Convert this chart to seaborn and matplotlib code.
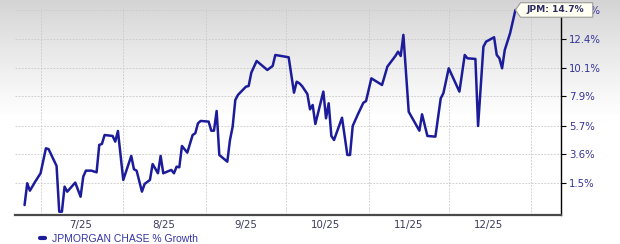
import numpy as np
import pandas as pd
import matplotlib
matplotlib.use("Agg")
import matplotlib.pyplot as plt
from matplotlib.path import Path
import seaborn as sns

# ---------------- data ----------------
dates = [
    "2025-06-25", "2025-06-26", "2025-06-27", "2025-06-29", "2025-07-01",
    "2025-07-03", "2025-07-04", "2025-07-07", "2025-07-08", "2025-07-09",
    "2025-07-10", "2025-07-11", "2025-07-14", "2025-07-16", "2025-07-17",
    "2025-07-18", "2025-07-20", "2025-07-22", "2025-07-23", "2025-07-24",
    "2025-07-25", "2025-07-28", "2025-07-29", "2025-07-30", "2025-08-01",
    "2025-08-04", "2025-08-05", "2025-08-06", "2025-08-08", "2025-08-09",
    "2025-08-11", "2025-08-12", "2025-08-14", "2025-08-15", "2025-08-16",
    "2025-08-19", "2025-08-20", "2025-08-21", "2025-08-22", "2025-08-23",
    "2025-08-25", "2025-08-27", "2025-08-28", "2025-08-29", "2025-08-30",
    "2025-09-02", "2025-09-03", "2025-09-04", "2025-09-05", "2025-09-06",
    "2025-09-09", "2025-09-10", "2025-09-11", "2025-09-12", "2025-09-13",
    "2025-09-16", "2025-09-17", "2025-09-18", "2025-09-20", "2025-09-24",
    "2025-09-26", "2025-09-27", "2025-10-02", "2025-10-04", "2025-10-05",
    "2025-10-06", "2025-10-07", "2025-10-09", "2025-10-10", "2025-10-11",
    "2025-10-12", "2025-10-15", "2025-10-16", "2025-10-17", "2025-10-18",
    "2025-10-19", "2025-10-22", "2025-10-24", "2025-10-25", "2025-10-26",
    "2025-10-28", "2025-10-30", "2025-10-31", "2025-11-02", "2025-11-06",
    "2025-11-08", "2025-11-11", "2025-11-12", "2025-11-13", "2025-11-14",
    "2025-11-16", "2025-11-20", "2025-11-21", "2025-11-23", "2025-11-26",
    "2025-11-28", "2025-11-29", "2025-12-01", "2025-12-05", "2025-12-07",
    "2025-12-08", "2025-12-11", "2025-12-12", "2025-12-14", "2025-12-15",
    "2025-12-18", "2025-12-19", "2025-12-20", "2025-12-21", "2025-12-22",
    "2025-12-24", "2025-12-26",
]
growth = [
    -0.07, 1.48, 0.95, 1.60, 2.20,
    4.02, 3.96, 2.73, -0.54, -0.54,
    1.24, 0.88, 1.53, 0.52, 1.96,
    2.39, 2.39, 2.27, 4.27, 4.34,
    5.00, 4.93, 4.51, 5.30, 1.72,
    3.46, 2.49, 2.39, 0.88, 1.43,
    1.72, 2.87, 2.20, 3.46, 2.20,
    2.44, 2.20, 2.68, 2.63, 4.19,
    3.70, 5.00, 5.13, 5.87, 6.05,
    6.00, 5.32, 5.32, 6.80, 3.53,
    3.04, 4.63, 5.62, 7.63, 8.02,
    8.65, 8.70, 9.73, 10.64, 9.94,
    10.25, 11.11, 10.93, 8.19, 9.03,
    8.91, 8.70, 8.09, 6.92, 7.25,
    5.82, 8.27, 6.25, 7.38, 4.93,
    4.63, 6.29, 3.53, 3.53, 5.67,
    6.57, 7.42, 7.55, 9.29, 8.78,
    10.20, 11.03, 11.37, 11.03, 12.70,
    6.74, 5.32, 6.55, 4.93, 4.88,
    7.76, 8.15, 10.07, 8.27, 11.11,
    10.85, 10.80, 5.67, 11.76, 12.16,
    12.51, 11.11, 10.85, 10.07, 11.50,
    12.83, 14.70,
]
series_name = "JPMORGAN CHASE % Growth"
ticker = "JPM"

ytick_values = [1.5, 3.6, 5.7, 7.9, 10.1, 12.4, 14.7]
ytick_labels = ["1.5%", "3.6%", "5.7%", "7.9%", "10.1%", "12.4%", "14.7%"]

month_starts = ["2025-07-01", "2025-08-01", "2025-09-01", "2025-10-01",
                "2025-11-01", "2025-12-01", "2026-01-01"]
month_mids = ["2025-07-16", "2025-08-16", "2025-09-16", "2025-10-16",
              "2025-11-16", "2025-12-16"]
month_labels = ["7/25", "8/25", "9/25", "10/25", "11/25", "12/25"]

df = pd.DataFrame({"date": pd.to_datetime(dates), "growth": growth})

# ---------------- style ----------------
sns.set_style("white")
plt.rcParams["font.family"] = ["DejaVu Sans"]

W, H = 620, 244
fig = plt.figure(figsize=(W / 100, H / 100), dpi=100)

# gradient background
bg = fig.add_axes([0, 0, 1, 1], zorder=-10)
rows = np.arange(H)
t = np.clip(rows / 115.0, 0, 1)
top_c = np.array([0.83, 0.83, 0.83])
cols = top_c[None, :] + (1 - top_c[None, :]) * t[:, None] ** 0.9
img = np.repeat(cols[:, None, :], 2, axis=1)
bg.imshow(img, aspect="auto", extent=[0, 1, 0, 1], interpolation="bilinear")
bg.axis("off")

ax = fig.add_axes([15 / W, (H - 215) / H, (561 - 15) / W, (215 - 8) / H])
ax.set_facecolor("none")

line_color = "#1c1c9a"
sns.lineplot(data=df, x="date", y="growth", ax=ax, estimator=None, sort=False,
             color=line_color, linewidth=1.8, label=series_name)

def fwd(g):
    return np.log1p(np.asarray(g, dtype=float) / 100.0)

def inv(v):
    return np.expm1(np.asarray(v, dtype=float)) * 100.0

ax.set_yscale("function", functions=(fwd, inv))
ax.set_ylim(-0.77, 14.86)
ax.set_xlim(pd.Timestamp("2025-06-21 10:00"), pd.Timestamp("2026-01-12 02:00"))

ax.set_yticks(ytick_values)
ax.set_yticklabels(ytick_labels)
ax.yaxis.set_minor_locator(matplotlib.ticker.NullLocator())
ax.yaxis.tick_right()
ax.tick_params(axis="y", which="major", direction="out", length=3.5, width=0.8,
               color="black", labelcolor="#33339a", pad=2.5, labelsize=7.3,
               right=True, left=False, labelright=True, labelleft=False)

ax.set_xticks(pd.to_datetime(month_starts))
ax.set_xticklabels([""] * len(month_starts))
ax.set_xticks(pd.to_datetime(month_mids), labels=month_labels, minor=True)
ax.tick_params(axis="x", which="both", length=0, pad=3.5, labelsize=7.4,
               labelcolor="#3c3c5c")

ax.grid(True, which="major", axis="both", color="#cacaca", linestyle=(0, (2.2, 1.6)),
        linewidth=0.6)
ax.set_axisbelow(True)

ax.set_xlabel("")
ax.set_ylabel("")
for s in ["left", "top"]:
    ax.spines[s].set_visible(False)
ax.spines["bottom"].set_color("#4a4a4a")
ax.spines["bottom"].set_linewidth(1.6)
ax.spines["right"].set_color("black")
ax.spines["right"].set_linewidth(1.0)

# legend
leg = ax.legend(loc="center left", bbox_to_anchor=(40 / W, 5.5 / H),
                bbox_transform=fig.transFigure, frameon=False, handlelength=0.45,
                handletextpad=0.7, borderpad=0, borderaxespad=0,
                prop={"family": "Liberation Sans", "size": 7.5},
                labelcolor="#3434a8")
for ln in leg.get_lines():
    ln.set_linewidth(3.0)

# tag-shaped value box
def tag_box(x0, y0, width, height, mutation_size):
    padl = 0.6 * mutation_size
    padr = 1.0 * mutation_size
    pady = 0.3 * mutation_size
    x0 -= padl
    y0 -= pady
    w = width + padl + padr
    h = height + 2 * pady
    tip = 5.0
    verts = [(x0 - tip, y0 + h / 2), (x0, y0), (x0 + w, y0), (x0 + w, y0 + h),
             (x0, y0 + h), (x0 - tip, y0 + h / 2)]
    return Path(verts, closed=True)

ax.annotate(f"{ticker}: {growth[-1]:.1f}%", xy=(df["date"].iloc[-1], growth[-1]),
            xytext=(7.6, 0), textcoords="offset points", ha="left", va="center",
            fontsize=6.6, fontweight="bold", color="#2c2c64",
            bbox=dict(boxstyle=tag_box, fc="#fffff2", ec="#9a9a9a", lw=0.8),
            zorder=10, annotation_clip=False)

fig.savefig("out.png", dpi=100)
